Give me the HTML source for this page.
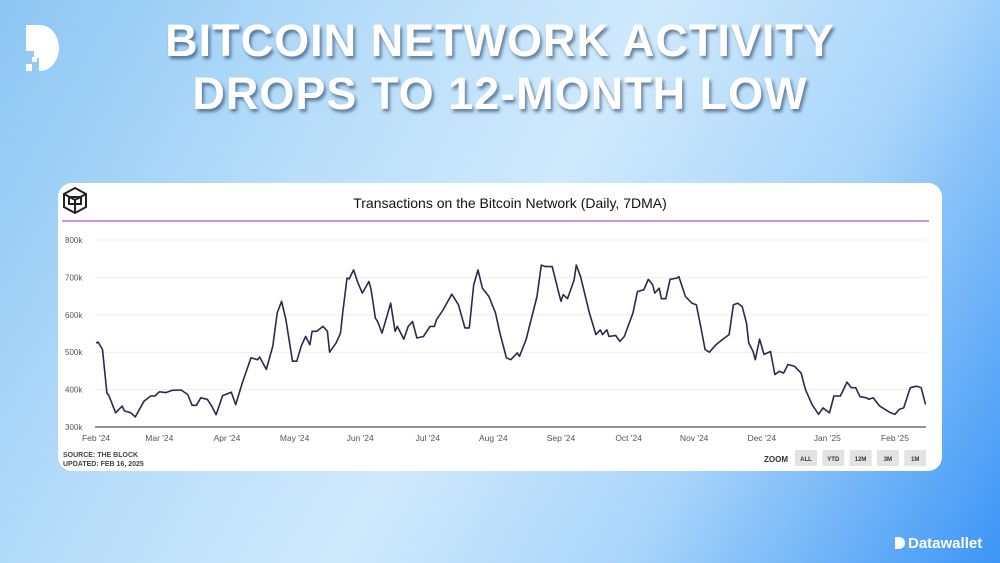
<!DOCTYPE html>
<html><head><meta charset="utf-8">
<style>
html,body{margin:0;padding:0}
body{width:1000px;height:563px;overflow:hidden;position:relative;font-family:"Liberation Sans",sans-serif;
background:linear-gradient(120deg,#8cc6f3 0%,#b9defa 30%,#cfe9fc 50%,#a9d5fa 72%,#3c95f6 100%);}
.title{position:absolute;left:0;width:1000px;text-align:center;color:#fff;font-weight:bold;font-size:45px;letter-spacing:1px;line-height:48px;text-shadow:2px 3px 3px rgba(20,40,80,.55);}
#card{position:absolute;left:58px;top:183px;width:884px;height:288px;background:#fff;border-radius:14px;}
</style></head><body>
<svg style="position:absolute;left:26px;top:25px" width="40" height="48" viewBox="0 0 40 48">
<path d="M0 0 H14 A19 23 0 0 1 14 46 H13 V33 H8 V26 H0 Z" fill="#fff"/>
<rect x="0" y="39" width="6" height="7" fill="#fff"/><rect x="6" y="32" width="5" height="5" fill="#fff"/>
</svg>
<div class="title" style="top:17px">BITCOIN NETWORK ACTIVITY</div>
<div class="title" style="top:70px">DROPS TO 12-MONTH LOW</div>
<div id="card"></div>
<svg id="chart" style="position:absolute;left:0;top:0" width="1000" height="563"></svg>
<div style="position:absolute;left:895px;top:535px;color:#fff;font-weight:bold;font-size:15px;">
<span style="display:inline-block;width:10px;height:12px;background:#fff;border-radius:0 6px 6px 0;vertical-align:-1px;margin-right:3px"></span>Datawallet</div>
<script>
const monthLabels=["Feb '24","Mar '24","Apr '24","May '24","Jun '24","Jul '24","Aug '24","Sep '24","Oct '24","Nov '24","Dec '24","Jan '25","Feb '25"];
const monthDays=[0,29,60,91,121,152,182,213,244,274,305,335,366];
const yTicks=[300,400,500,600,700,800];
const days=[0,1,3,5,6,9,12,13,16,18,22,25,27,29,32,35,39,42,44,46,48,51,53,55,58,62,64,67,71,74,75,78,81,83,85,87,90,92,94,96,98,99,101,102,104,106,107,110,112,113,115,116,118,120,122,125,126,128,129,131,135,137,138,141,143,145,147,150,153,155,156,159,163,166,169,171,173,175,177,180,183,185,188,190,193,194,197,202,204,206,209,212,213,214,216,219,220,222,226,229,231,232,234,235,238,240,242,246,248,251,253,255,256,258,259,261,263,266,267,270,273,275,277,279,281,284,287,290,292,294,296,298,299,301,302,304,306,309,311,313,315,317,320,323,325,328,331,333,336,338,341,344,346,348,350,353,354,356,359,364,366,368,370,373,376,378,380];
const values=[525,527,507,391,383,338,356,343,338,327,369,383,383,394,392,398,399,387,358,358,378,374,356,333,384,393,360,418,485,480,487,454,516,605,636,587,476,476,516,542,520,556,556,560,569,556,500,525,551,605,698,696,720,685,658,689,667,591,582,551,631,556,569,535,569,582,538,542,569,569,587,613,655,627,565,565,680,720,671,649,605,551,485,480,498,489,534,649,733,729,729,658,636,654,643,693,733,702,605,547,560,547,560,542,545,529,542,605,662,667,695,680,658,671,643,643,695,698,702,649,631,627,569,507,500,520,534,547,627,631,622,578,525,502,480,535,494,502,440,449,444,467,462,444,400,360,334,351,338,383,383,420,405,405,381,378,374,378,356,338,334,347,351,405,409,405,360];
const NS="http://www.w3.org/2000/svg";
const svg=document.getElementById('chart');
const X0=96,PXD=2.183,Y0=427,PXV=0.374;
const xs=d=>X0+d*PXD, ys=v=>Y0-(v-300)*PXV;
function mk(t,a){const e=document.createElementNS(NS,t);for(const k in a)e.setAttribute(k,a[k]);svg.appendChild(e);return e;}
let lg=mk('path',{d:'M75 188 L86 194 L86 207 L75 213 L64 207 L64 194 Z M64 194 L75 200 L86 194 M75 200 L75 213 M69 197 L81 197 L81 204 L69 204 Z',fill:'none',stroke:'#222',"stroke-width":2});


let t=mk('text',{x:510,y:208,"text-anchor":"middle","font-size":14,fill:"#111"});t.textContent="Transactions on the Bitcoin Network (Daily, 7DMA)";


let pl=mk('line',{x1:62,x2:929,y1:221,y2:221,stroke:'#b54fcf',"stroke-width":1.2});


yTicks.forEach(v=>{
  let g=mk('line',{x1:95,x2:926,y1:ys(v),y2:ys(v),stroke:v==300?'#555':'#eee',"stroke-width":v==300?1.2:1});
  
  
  let l=mk('text',{x:65,y:ys(v)+3,"font-size":8,fill:'#555'});l.textContent=v+'k';
  
  
});
monthDays.forEach((d,i)=>{
  let l=mk('text',{x:xs(d),y:441,"font-size":8.5,fill:'#555',"text-anchor":"middle"});l.textContent=monthLabels[i];
  
  
});
let p=mk('path',{d:days.map((d,i)=>(i?'L':'M')+xs(d).toFixed(1)+' '+ys(values[i]).toFixed(1)).join(' '),fill:'none',stroke:'#2a2a4e',"stroke-width":1.6,"stroke-linejoin":"round"});


let s1=mk('text',{x:63,y:457,"font-size":7,"font-weight":"bold",fill:'#444'});s1.textContent="SOURCE: THE BLOCK";


let s2=mk('text',{x:63,y:466,"font-size":7,"font-weight":"bold",fill:'#444'});s2.textContent="UPDATED: FEB 16, 2025";


let z=mk('text',{x:764,y:462,"font-size":8,"font-weight":"bold",fill:'#333'});z.textContent="ZOOM";


["ALL","YTD","12M","3M","1M"].forEach((b,i)=>{
  let bx=795+i*27.3;
  let r=mk('rect',{x:bx,y:450,width:22,height:16,fill:'#e3e3e3',rx:1});
  
  
  let tt=mk('text',{x:bx+11,y:461,"font-size":6,"font-weight":"bold",fill:'#333',"text-anchor":"middle"});tt.textContent=b;
  
  
});
</script>
</body></html>
